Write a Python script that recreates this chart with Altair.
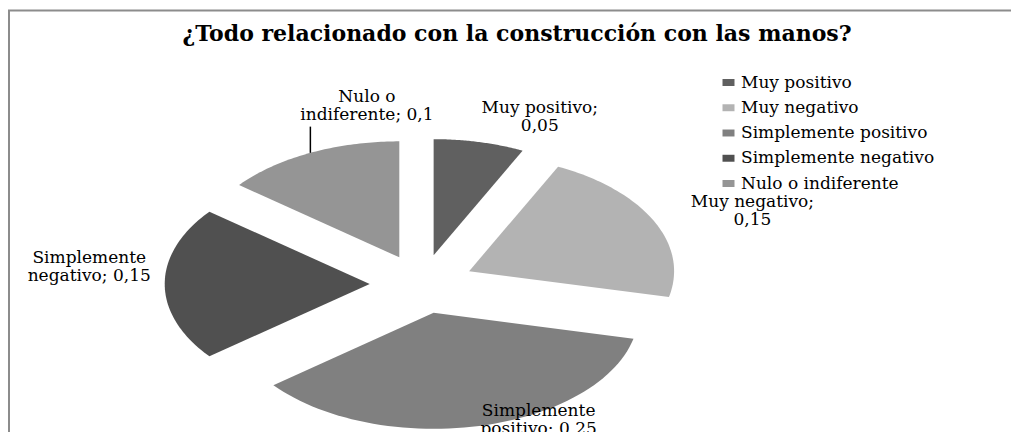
import textwrap
import altair as alt
import pandas as pd

# ---------------- data ----------------
categories = ["Muy positivo", "Muy negativo", "Simplemente positivo",
              "Simplemente negativo", "Nulo o indiferente"]
values = [0.05, 0.15, 0.25, 0.15, 0.1]
title_text = "¿Todo relacionado con la construcción con las manos?"

# ---------------- styles / layout ----------------
colors = ["#606060", "#b3b3b3", "#808080", "#505050", "#959595"]
label_radius = [1.55, 1.73, 1.30, 1.63, 1.56]     # in pie-radius units
label_turn = [8.9, 4.4, -13.1, 5.2, 15.8]         # degrees from slice middle
leader = [0, 0, 0, 0, 1]
EXPLODE = 0.255
N = 60
FONT = "DejaVu Serif"
W, H = 1003, 424

value_text = [f"{v:g}".replace(".", ",") for v in values]
labels = ["\n".join(textwrap.wrap(f"{c}; {t}", 16)) for c, t in zip(categories, value_text)]

df = pd.DataFrame({
    "cat": categories, "val": values, "idx": list(range(len(values))),
    "label": labels, "lr": label_radius, "lt": label_turn, "leader": leader,
})

xs = alt.Scale(domain=[-2.0195, -2.0195 + W / 205], nice=False, zero=False)
ys = alt.Scale(domain=[2.3793 - H / 116, 2.3793], nice=False, zero=False)

base = (
    alt.Chart(df)
    .transform_joinaggregate(total="sum(val)")
    .transform_window(cum="sum(val)", sort=[alt.SortField("idx", order="ascending")], frame=[None, 0])
    .transform_calculate(a0="2*PI*(datum.cum - datum.val)/datum.total")
    .transform_calculate(a1="2*PI*datum.cum/datum.total")
    .transform_calculate(am="(datum.a0 + datum.a1)/2")
    .transform_calculate(ox=f"{EXPLODE}*sin(datum.am)")
    .transform_calculate(oy=f"{EXPLODE}*cos(datum.am)")
)

wedges = (
    base.transform_calculate(k=f"sequence(0, {N + 2})")
    .transform_flatten(["k"])
    .transform_calculate(ang=f"datum.a0 + (datum.k - 1)/{N}*(datum.a1 - datum.a0)")
    .transform_calculate(px="datum.k == 0 ? datum.ox : datum.ox + sin(datum.ang)")
    .transform_calculate(py="datum.k == 0 ? datum.oy : datum.oy + cos(datum.ang)")
    .mark_line(stroke="transparent", strokeWidth=0)
    .encode(
        x=alt.X("px:Q", scale=xs, axis=None),
        y=alt.Y("py:Q", scale=ys, axis=None),
        fill=alt.Fill(
            "cat:N",
            scale=alt.Scale(domain=categories, range=colors),
            legend=alt.Legend(
                orient="none", legendX=712, legendY=66, title=None, padding=0,
                symbolType="M-1,-0.58H1V0.58H-1Z", symbolSize=144,
                symbolStrokeWidth=0, labelFont=FONT, labelFontSize=17,
                labelColor="#000000", labelLimit=400, rowPadding=7.25, labelOffset=4,
            ),
        ),
        detail="cat:N",
        order=alt.Order("k:Q"),
    )
)

lab = (
    base.transform_calculate(lang="datum.am + datum.lt*PI/180")
    .transform_calculate(lx="datum.lr*sin(datum.lang)")
    .transform_calculate(ly="datum.lr*cos(datum.lang)")
)

labels_layer = lab.mark_text(
    font=FONT, fontSize=17, lineBreak="\n", lineHeight=18, dy=-9,
    align="center", baseline="middle", color="#000000",
).encode(
    x=alt.X("lx:Q", scale=xs, axis=None),
    y=alt.Y("ly:Q", scale=ys, axis=None),
    text="label:N",
)

leader_layer = (
    lab.transform_filter("datum.leader == 1")
    .transform_calculate(x0="datum.ox + sin(datum.am)")
    .transform_calculate(y0="datum.oy + cos(datum.am)")
    .transform_calculate(y1="datum.ly - 0.18")
    .mark_rule(color="#000000", strokeWidth=1.5)
    .encode(
        x=alt.X("x0:Q", scale=xs, axis=None),
        y=alt.Y("y0:Q", scale=ys, axis=None),
        y2="y1:Q",
    )
)

one = pd.DataFrame({"t": [title_text]})
border_top = alt.Chart(one).mark_rule(color="#8c8c8c", strokeWidth=2).encode(
    x=alt.value(0), x2=alt.value(W), y=alt.value(2.5))
border_left = alt.Chart(one).mark_rule(color="#8c8c8c", strokeWidth=2).encode(
    x=alt.value(1), y=alt.value(2), y2=alt.value(H))
title = alt.Chart(one).mark_text(
    font=FONT, fontSize=22, fontWeight="bold", align="center", baseline="middle", color="#000000"
).encode(x=alt.value(509), y=alt.value(26), text="t:N")

chart = (
    alt.layer(border_top, border_left, wedges, leader_layer, labels_layer, title)
    .properties(width=W, height=H, autosize=alt.AutoSizeParams(type="none"), padding=0,
                background="white")
    .configure_view(stroke="transparent", strokeWidth=0)
)

chart.save("out.html", embed_options={"renderer": "svg", "actions": False})
